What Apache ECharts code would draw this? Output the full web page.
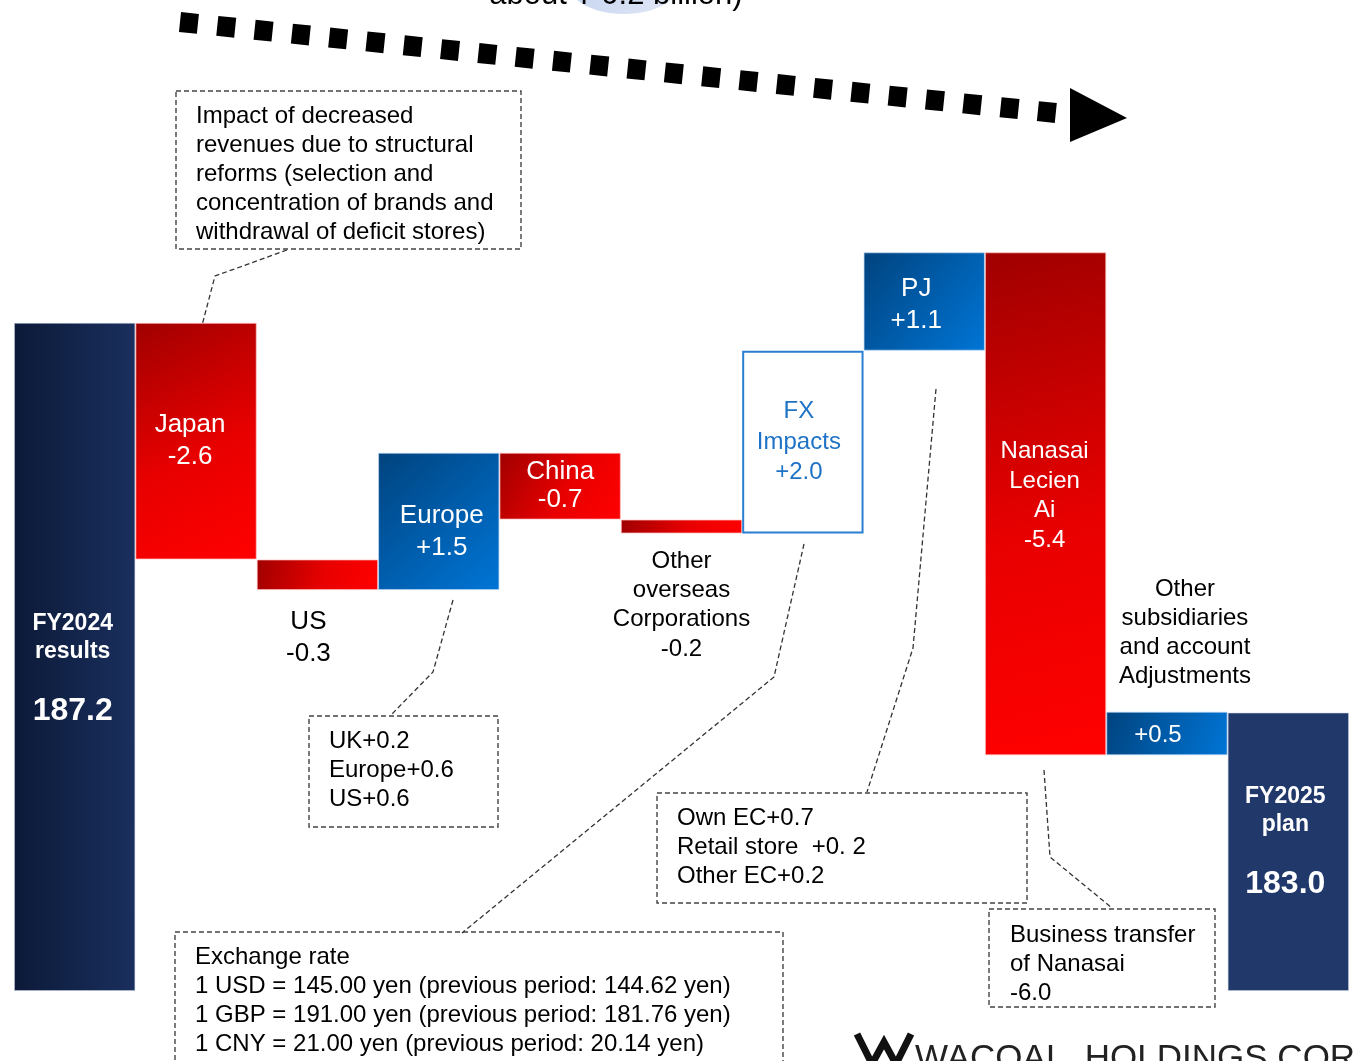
<!DOCTYPE html>
<html>
<head>
<meta charset="utf-8">
<title>Net sales bridge FY2024 results → FY2025 plan</title>
<script src="https://cdn.jsdelivr.net/npm/echarts@6/dist/echarts.min.js"></script>
<style>
    html, body { margin: 0; padding: 0; background: #fff; }
    #chart { width: 1354px; height: 1061px; }
</style>
</head>
<body>
<div id="chart"></div>
<script>
// 数据
const categories = ['FY2024 results', 'Japan', 'US', 'Europe', 'China', 'Other overseas Corporations',
    'FX Impacts', 'PJ', 'Nanasai Lecien Ai', 'Other subsidiaries and account Adjustments', 'FY2025 plan'];
const startTotal = 187.2;
const endTotal = 183.0;
// bar heights as drawn (billion yen)
const changes = [-2.55, -0.33, 1.48, -0.72, -0.15, 1.97, 1.06, -5.42, 0.47];
const barNames = ['FY2024\nresults', 'Japan', 'US', 'Europe', 'China', 'Other\noverseas\nCorporations',
    'FX\nImpacts', 'PJ', 'Nanasai\nLecien\nAi', 'Other\nsubsidiaries\nand account\nAdjustments', 'FY2025\nplan'];
const valueLabels = ['187.2', '-2.6', '-0.3', '+1.5', '-0.7', '-0.2', '+2.0', '+1.1', '-5.4', '+0.5', '183.0'];

const FONT = '"Liberation Sans", Arial, sans-serif';
const axisMin = 180;

// waterfall: invisible base + visible part
let baseData = [axisMin];
let sizeData = [startTotal - axisMin];
let kinds = ['start'];
let level = startTotal;
changes.forEach(function (c, i) {
    let next = level + c;
    baseData.push(Math.min(level, next));
    sizeData.push(Math.abs(c));
    kinds.push(categories[i + 1] === 'FX Impacts' ? 'fx' : (c < 0 ? 'down' : 'up'));
    level = next;
});
baseData.push(axisMin);
sizeData.push(endTotal - axisMin);
kinds.push('end');

const redFill = new echarts.graphic.LinearGradient(0, 0, 1, 1, [
    {offset: 0, color: '#a00000'}, {offset: 0.55, color: '#e80000'}, {offset: 1, color: '#ff0000'}]);
const blueFill = new echarts.graphic.LinearGradient(0, 0, 1, 1, [
    {offset: 0, color: '#00437e'}, {offset: 1, color: '#0075d6'}]);
const navyFill = new echarts.graphic.LinearGradient(0, 0, 1, 0, [
    {offset: 0, color: '#0c1a38'}, {offset: 1, color: '#1a2f5e'}]);

function styleFor(kind) {
    if (kind === 'down') return {color: redFill, borderColor: 'rgba(255,190,190,0.7)', borderWidth: 1};
    if (kind === 'up') return {color: blueFill, borderColor: 'rgba(190,215,245,0.7)', borderWidth: 1};
    if (kind === 'fx') return {color: '#fff', borderColor: '#2a7fd2', borderWidth: 2};
    if (kind === 'start') return {color: navyFill, borderColor: 'rgba(200,210,230,0.5)', borderWidth: 1};
    return {color: '#21386a', borderColor: 'rgba(200,210,230,0.5)', borderWidth: 1};
}

const totalRich = {
    b: {color: '#fff', fontFamily: FONT, fontWeight: 'bold', fontSize: 23, lineHeight: 28},
    v: {color: '#fff', fontFamily: FONT, fontWeight: 'bold', fontSize: 32, lineHeight: 90}
};

function labelFor(i) {
    let plain = barNames[i] + '\n' + valueLabels[i];
    let lbl = {show: true, position: 'inside', color: '#fff', fontFamily: FONT, fontSize: 24,
        lineHeight: 32, formatter: plain};
    if (i === 0 || i === 10) {
        lbl.formatter = barNames[i].split('\n').map(function (t) { return '{b|' + t + '}'; }).join('\n') +
            '\n{v|' + valueLabels[i] + '}';
        lbl.rich = totalRich;
        lbl.offset = i === 0 ? [-2, 26] : [-3, 4];
    } else if (i === 1) {
        lbl.fontSize = 26; lbl.offset = [-6, 0];
    } else if (i === 2) {
        lbl.fontSize = 26;
        lbl.position = 'bottom'; lbl.distance = 16; lbl.color = '#000'; lbl.offset = [-9, 0];
    } else if (i === 3) {
        lbl.fontSize = 26; lbl.offset = [3, 10];
    } else if (i === 4) {
        lbl.fontSize = 26; lbl.lineHeight = 28;
    } else if (i === 5) {
        lbl.position = 'bottom'; lbl.distance = 13; lbl.color = '#000'; lbl.lineHeight = 29.3;
    } else if (i === 6) {
        lbl.color = '#1f73c6'; lbl.lineHeight = 30.5; lbl.offset = [-4, 0];
    } else if (i === 7) {
        lbl.fontSize = 26; lbl.offset = [-8, 3];
    } else if (i === 8) {
        lbl.lineHeight = 29.7; lbl.offset = [-1, -8];
    } else if (i === 9) {
        lbl.formatter = barNames[i].split('\n').map(function (t) { return '{a|' + t + '}'; }).join('\n') +
            '\n{s| }\n{v|' + valueLabels[i] + '}';
        lbl.rich = {
            a: {color: '#000', fontFamily: FONT, fontSize: 24, lineHeight: 29, padding: [0, 0, 0, 54]},
            s: {fontSize: 2, lineHeight: 22},
            v: {color: '#fff', fontFamily: FONT, fontSize: 24, lineHeight: 44}
        };
        lbl.position = 'insideBottom';
        lbl.distance = -2;
        lbl.offset = [-9, 0];
    }
    return lbl;
}

const visibleData = sizeData.map(function (v, i) {
    return {value: v, itemStyle: styleFor(kinds[i]), label: labelFor(i)};
});

// dashed boxes, leaders, arrow etc.
const boxStroke = {stroke: '#444', lineWidth: 1.4, lineDash: [5, 3], fill: null};
const leaderStyle = {stroke: '#333', lineWidth: 1.3, lineDash: [5, 3], fill: null};

function box(x, y, w, h) {
    return {type: 'rect', shape: {x: x, y: y, width: w, height: h}, style: boxStroke, silent: true};
}
function note(x, y, text) {
    return {type: 'text', x: x, y: y, silent: true,
        style: {text: text, fill: '#000', fontFamily: FONT, fontSize: 24, lineHeight: 29,
            textAlign: 'left', textVerticalAlign: 'top'}};
}
function leader(points) {
    return {type: 'polyline', shape: {points: points}, style: leaderStyle, silent: true};
}

const graphics = [
    {type: 'ellipse', shape: {cx: 624, cy: -14, rx: 54, ry: 28}, silent: true,
        style: {fill: new echarts.graphic.LinearGradient(0, 0, 1, 1, [
            {offset: 0, color: '#c3d2ee'}, {offset: 1, color: '#e2e9f7'}])}},
    {type: 'text', x: 616, y: -5, silent: true,
        style: {text: 'about ¥ 0.2 billion)', fill: '#000', fontFamily: FONT, fontSize: 31,
            textAlign: 'center', textVerticalAlign: 'middle'}},
    {type: 'line', shape: {x1: 180, y1: 22, x2: 1066, y2: 114}, silent: true,
        style: {stroke: '#000', lineWidth: 20, lineDash: [18, 19.5]}},
    {type: 'polygon', shape: {points: [[1070, 88], [1127, 118], [1070, 142]]}, silent: true,
        style: {fill: '#000'}},

    box(176, 91, 345, 158),
    note(196, 101.5, 'Impact of decreased\nrevenues due to structural\nreforms (selection and\nconcentration of brands and\nwithdrawal of deficit stores)'),
    leader([[287, 250], [215, 276], [200, 333]]),

    box(309, 716, 189, 111),
    note(329, 726.5, 'UK+0.2\nEurope+0.6\nUS+0.6'),
    leader([[453, 600], [433, 672], [390, 716]]),

    box(175, 932, 608, 140),
    note(195, 942.5, 'Exchange rate\n1 USD = 145.00 yen (previous period: 144.62 yen)\n1 GBP = 191.00 yen (previous period: 181.76 yen)\n1 CNY = 21.00 yen (previous period: 20.14 yen)'),
    leader([[804, 544], [774, 677], [462, 933]]),

    box(657, 793, 370, 110),
    note(677, 803.5, 'Own EC+0.7\nRetail store  +0. 2\nOther EC+0.2'),
    leader([[936, 389], [913, 648], [867, 792]]),

    box(989, 909, 226, 98),
    note(1010, 920.5, 'Business transfer\nof Nanasai\n-6.0'),
    leader([[1044, 770], [1050, 857], [1112, 908]]),

    {type: 'polyline', shape: {points: [[857, 1034], [872, 1064], [884, 1042], [896, 1064], [911, 1034]]},
        silent: true, style: {stroke: '#111', lineWidth: 7, fill: null}},
    {type: 'text', x: 915, y: 1059, silent: true,
        style: {text: 'WACOAL  HOLDINGS CORP.', fill: '#222', fontFamily: FONT, fontSize: 35,
            textAlign: 'left', textVerticalAlign: 'middle'}}
];

const myChart = echarts.init(document.getElementById('chart'));
let option = {
    animation: false,
    grid: {left: 14, right: 5, top: 63, bottom: 70},
    xAxis: {type: 'category', data: categories, show: false},
    yAxis: {type: 'value', min: axisMin, max: 190, show: false, splitLine: {show: false}},
    series: [{
        name: 'base',
        type: 'bar',
        stack: 'bridge',
        barCategoryGap: '0%',
        silent: true,
        itemStyle: {color: 'transparent'},
        data: baseData
    }, {
        name: 'net sales',
        type: 'bar',
        stack: 'bridge',
        barCategoryGap: '0%',
        silent: true,
        data: visibleData
    }],
    graphic: {elements: graphics}
};
myChart.setOption(option);
window.addEventListener('resize', function () {
    myChart.resize();
});
</script>
</body>
</html>
